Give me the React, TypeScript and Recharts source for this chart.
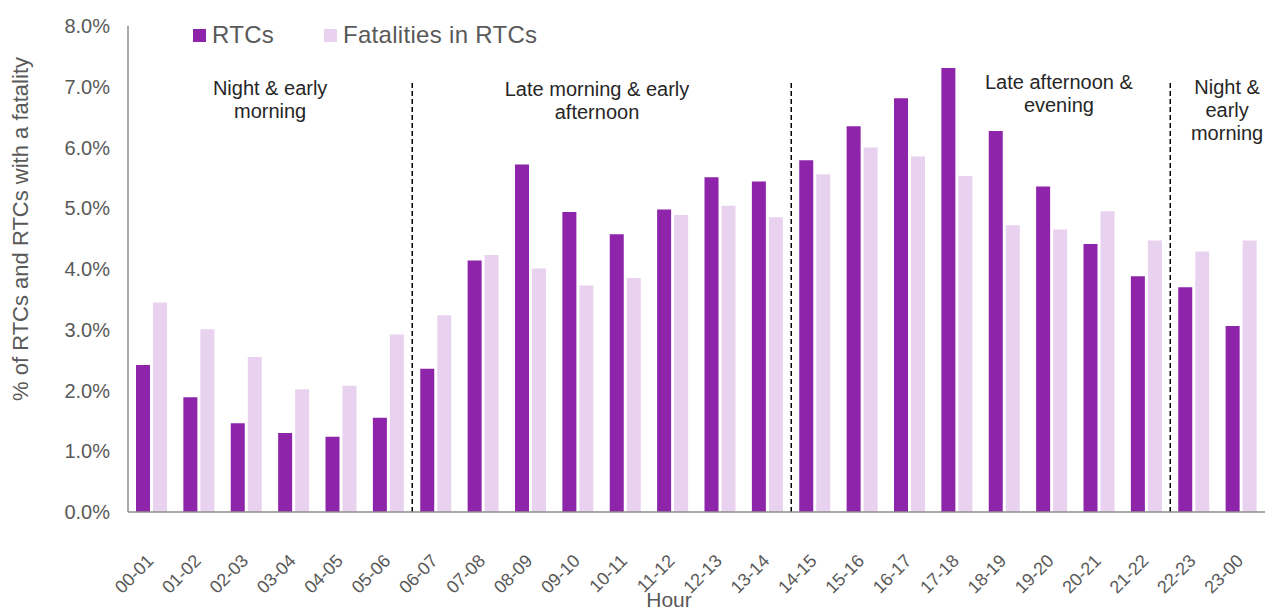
import React from 'react';
import { BarChart, Bar, XAxis, YAxis, ReferenceLine, ReferenceDot, Legend, Label } from 'recharts';

// Hour-of-day bands
const hours = [
  '00-01', '01-02', '02-03', '03-04', '04-05', '05-06', '06-07', '07-08',
  '08-09', '09-10', '10-11', '11-12', '12-13', '13-14', '14-15', '15-16',
  '16-17', '17-18', '18-19', '19-20', '20-21', '21-22', '22-23', '23-00',
];

// Share of all road traffic collisions in each hour (%)
const rtcShare = [
  2.42, 1.89, 1.46, 1.30, 1.24, 1.55, 2.36, 4.14,
  5.72, 4.94, 4.57, 4.98, 5.51, 5.44, 5.79, 6.35,
  6.81, 7.31, 6.27, 5.36, 4.41, 3.88, 3.70, 3.06,
];

// Share of collisions with a fatality in each hour (%)
const fatalShare = [
  3.45, 3.01, 2.55, 2.02, 2.08, 2.92, 3.24, 4.23,
  4.01, 3.73, 3.85, 4.89, 5.04, 4.85, 5.56, 6.00,
  5.85, 5.53, 4.72, 4.65, 4.95, 4.47, 4.29, 4.47,
];

const yTicks = [0, 1, 2, 3, 4, 5, 6, 7, 8];

// Period boundaries, in hours from midnight
const periodBreaks = [6, 14, 22];

const periodNames = [
  ['Night & early', 'morning'],
  ['Late morning & early', 'afternoon'],
  ['Late afternoon &', 'evening'],
  ['Night &', 'early', 'morning'],
];

const series = [
  { key: 'rtc', name: 'RTCs', color: '#8E24AA' },
  { key: 'fatal', name: 'Fatalities in RTCs', color: '#E9D2EF' },
];

// "slot" is the centre of each hour band, used by the hidden continuous hour axis
const data = hours.map((hour, i) => ({ hour, slot: i + 0.5, rtc: rtcShare[i], fatal: fatalShare[i] }));

// Where each period caption sits (hour position, top-line value)
const captionAnchors = [
  { x: 3, y: 6.98 },
  { x: 9.9, y: 6.96 },
  { x: 19.65, y: 7.08 },
  { x: 23.2, y: 7.0 },
];

const FONT = '"Liberation Sans", Arial, sans-serif';
const GREY = '#595959';
const AXIS = '#8c8c8c';

const HourTick = (props: any) => {
  const { x, y, payload } = props;
  const ax = x + 3;
  const ay = y + 42;
  return (
    <text
      x={ax}
      y={ay}
      textAnchor="end"
      transform={`rotate(-45 ${ax} ${ay})`}
      fontFamily={FONT}
      fontSize={18}
      fill={GREY}
    >
      {payload.value}
    </text>
  );
};

const Caption = (props: any) => {
  const { cx, cy, lines } = props;
  return (
    <text x={cx} y={cy} textAnchor="middle" fontFamily={FONT} fontSize={20} fill="#262626">
      {lines.map((line: string, i: number) => (
        <tspan key={i} x={cx} dy={i === 0 ? 7 : 23}>
          {line}
        </tspan>
      ))}
    </text>
  );
};

const LegendContent = () => (
  <div style={{ position: 'relative', width: 400, height: 30, fontFamily: FONT, fontSize: 24, color: GREY }}>
    {series.map((s, i) => (
      <div
        key={s.key}
        style={{ position: 'absolute', left: i === 0 ? 0 : 131, top: 0, display: 'flex', alignItems: 'center', height: 30, whiteSpace: 'nowrap' }}
      >
        <span style={{ display: 'inline-block', width: 13, height: 13, background: s.color, marginRight: 6 }} />
        <span style={{ letterSpacing: 0.3 }}>{s.name}</span>
      </div>
    ))}
  </div>
);

export default function App() {
  return (
    <div style={{ position: 'absolute', left: 0, top: 0, width: 1265, height: 610, background: '#fff' }}>
      <BarChart
        width={1265}
        height={610}
        data={data}
        margin={{ top: 26, right: 0, bottom: 0, left: 0 }}
        barCategoryGap={8}
        barGap={3}
      >
        <XAxis
          xAxisId="cat"
          dataKey="hour"
          interval={0}
          height={98}
          tickLine={false}
          axisLine={{ stroke: AXIS, strokeWidth: 1.5 }}
          tick={<HourTick />}
        >
          <Label
            content={() => (
              <text x={669} y={607} textAnchor="middle" fontFamily={FONT} fontSize={21} fill={GREY}>
                Hour
              </text>
            )}
          />
        </XAxis>
        <XAxis xAxisId="num" dataKey="slot" type="number" domain={[0, 24]} allowDataOverflow hide />
        <YAxis
          domain={[0, 8]}
          ticks={yTicks}
          interval={0}
          width={128}
          tickLine={false}
          tickMargin={12}
          axisLine={{ stroke: AXIS, strokeWidth: 1.5 }}
          tickFormatter={(v: number) => `${v.toFixed(1)}%`}
          tick={{ fontFamily: FONT, fontSize: 20, fill: GREY }}
        >
          <Label
            content={() => (
              <text
                x={20}
                y={229}
                textAnchor="middle"
                dominantBaseline="central"
                transform="rotate(-90 20 229)"
                fontFamily={FONT}
                fontSize={22}
                fill={GREY}
              >
                % of RTCs and RTCs with a fatality
              </text>
            )}
          />
        </YAxis>
        <Legend
          layout="horizontal"
          verticalAlign="middle"
          align="center"
          wrapperStyle={{ left: 193, top: 20, width: 400, height: 30 }}
          content={<LegendContent />}
        />
        {series.map((s) => (
          <Bar key={s.key} xAxisId="cat" dataKey={s.key} name={s.name} fill={s.color} isAnimationActive={false} />
        ))}
        {periodBreaks.map((h) => (
          <ReferenceLine
            key={h}
            xAxisId="num"
            segment={[{ x: h, y: 0 }, { x: h, y: 7.08 }]}
            stroke="#000"
            strokeWidth={1.5}
            strokeDasharray="5 3"
            ifOverflow="visible"
          />
        ))}
        {periodNames.map((lines, i) => (
          <ReferenceDot
            key={i}
            xAxisId="num"
            x={captionAnchors[i].x}
            y={captionAnchors[i].y}
            r={1}
            ifOverflow="visible"
            shape={(p: any) => <Caption {...p} lines={lines} />}
          />
        ))}
      </BarChart>
    </div>
  );
}
